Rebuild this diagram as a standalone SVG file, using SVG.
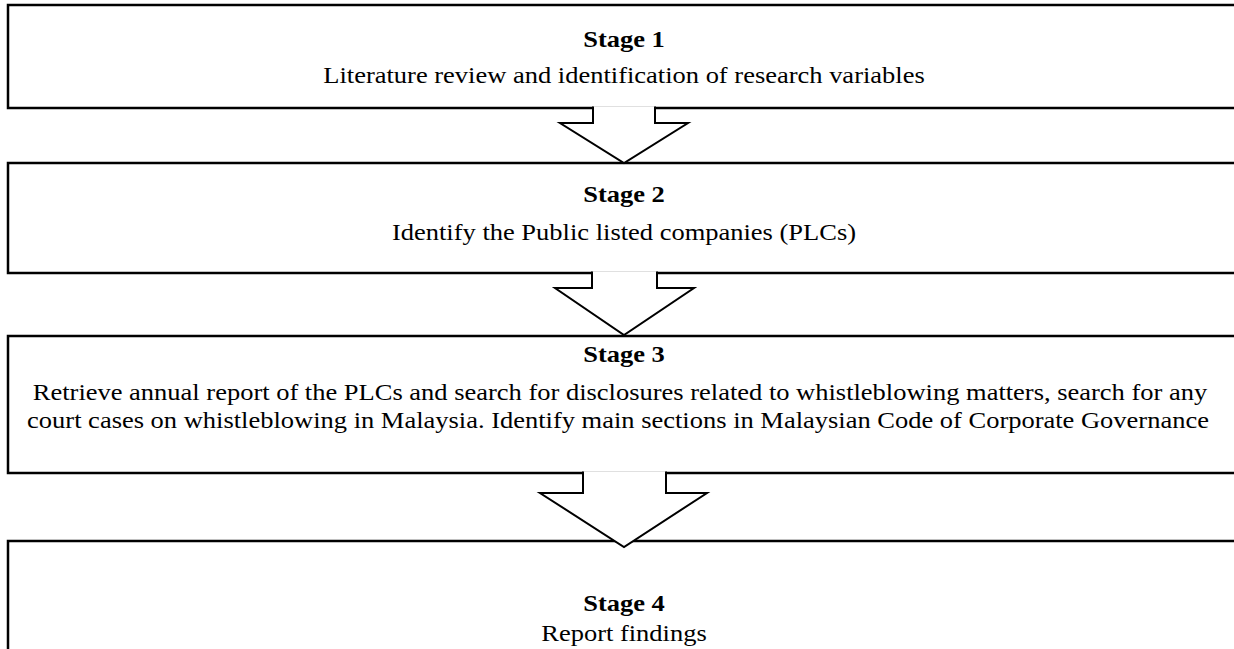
<svg xmlns="http://www.w3.org/2000/svg" width="1234" height="649" viewBox="0 0 1234 649">
<style>
.box{fill:#fff;stroke:#000;stroke-width:2.5}
.arr{fill:#fff;stroke:#000;stroke-width:2;stroke-linejoin:miter}
.st{font-family:"Liberation Serif","Times New Roman",serif;font-weight:bold;font-size:24px;text-anchor:middle;fill:#000}
.tx{font-family:"Liberation Serif","Times New Roman",serif;font-size:24px;text-anchor:middle;fill:#000}
</style>
<rect width="1234" height="649" fill="#fff"/>
<g id="stage1">
<rect class="box" x="8" y="5" width="1240" height="103"/>
<text class="st" transform="translate(624 47) scale(1.104 1)">Stage 1</text>
<text class="tx" transform="translate(624 83) scale(1.104 1)">Literature review and identification of research variables</text>
</g>
<g id="stage2">
<rect class="box" x="8" y="163" width="1240" height="110"/>
<text class="st" transform="translate(624 202) scale(1.104 1)">Stage 2</text>
<text class="tx" transform="translate(624 240) scale(1.104 1)">Identify the Public listed companies (PLCs)</text>
</g>
<g id="stage3">
<rect class="box" x="8" y="336" width="1240" height="137"/>
<text class="st" transform="translate(624 362) scale(1.104 1)">Stage 3</text>
<text class="tx" transform="translate(620 400) scale(1.104 1)">Retrieve annual report of the PLCs and search for disclosures related to whistleblowing matters, search for any</text>
<text class="tx" transform="translate(618 428) scale(1.104 1)">court cases on whistleblowing in Malaysia. Identify main sections in Malaysian Code of Corporate Governance</text>
</g>
<g id="stage4">
<rect class="box" x="8" y="541" width="1240" height="130"/>
<text class="st" transform="translate(624 611) scale(1.104 1)">Stage 4</text>
<text class="tx" transform="translate(624 641) scale(1.104 1)">Report findings</text>
</g>
<g id="connectors">
<path class="arr" d="M593 106.5 V123 H560 L624 163 L688 123 H655 V106.5"/>
<path class="arr" d="M592 271.5 V288 H555 L624 335 L694 288 H657 V271.5"/>
<path class="arr" d="M583 471.5 V493 H540 L624 547 L707 493 H666 V471.5"/>
</g>
</svg>
